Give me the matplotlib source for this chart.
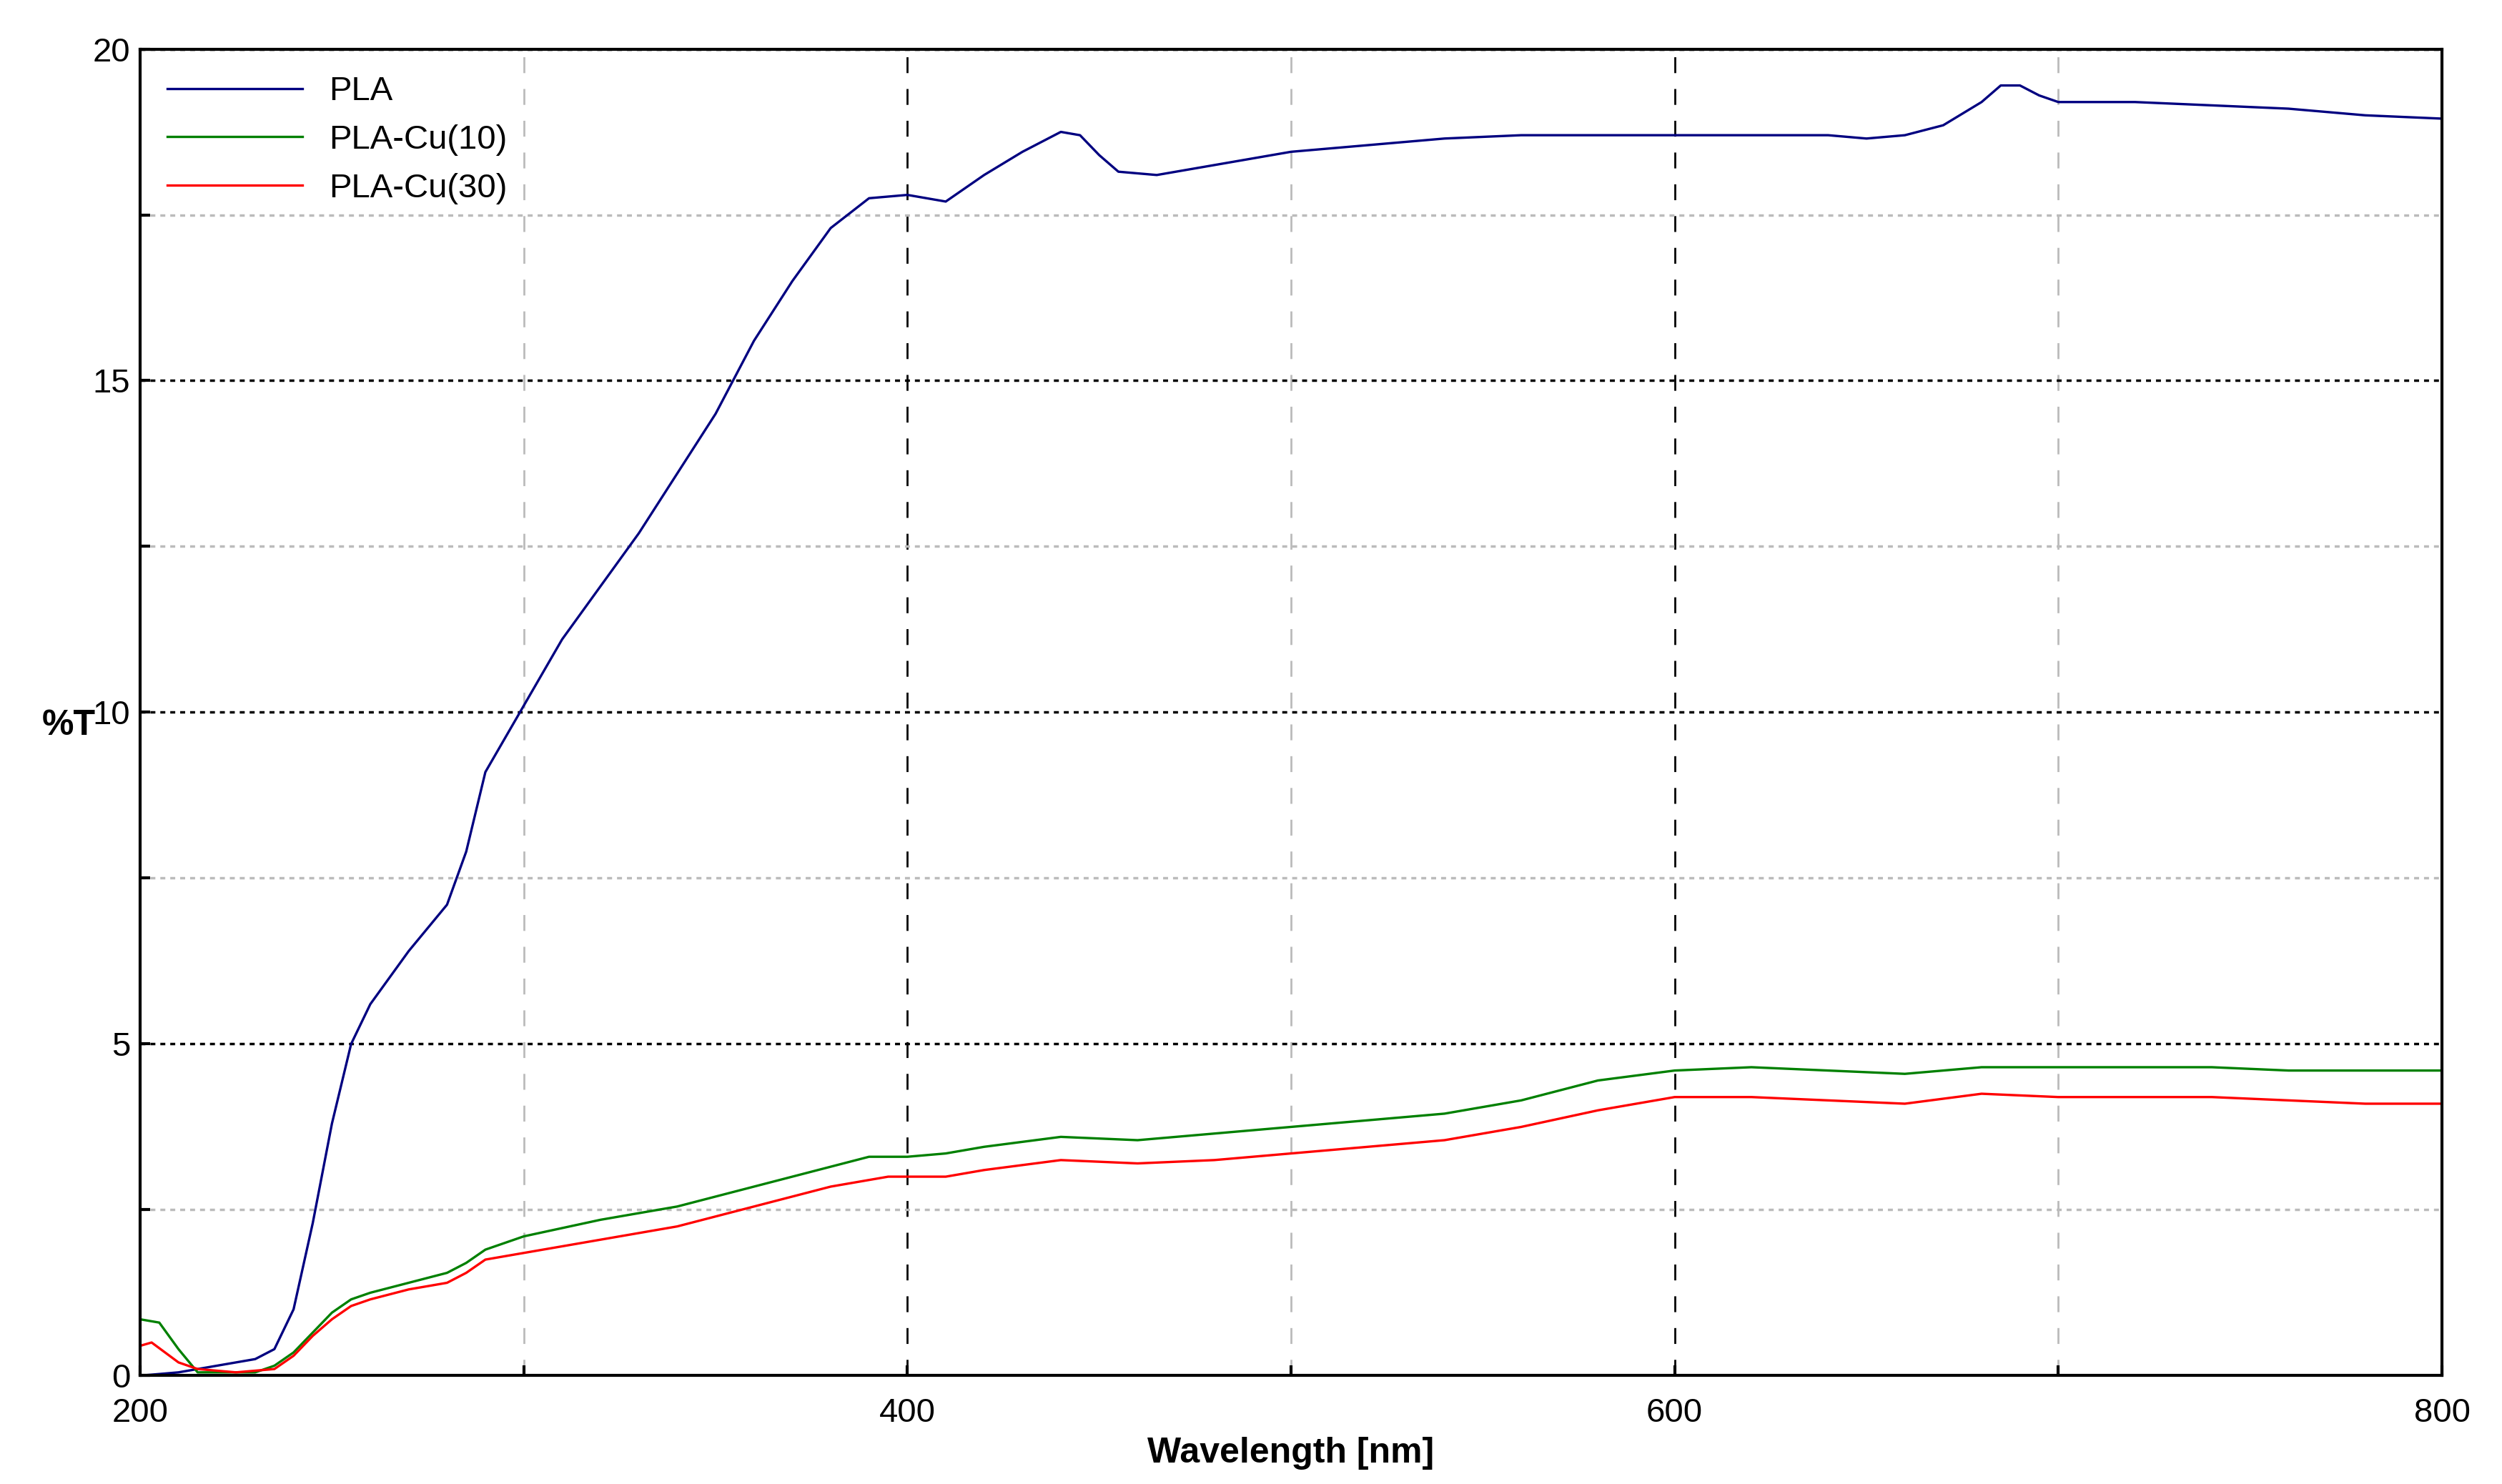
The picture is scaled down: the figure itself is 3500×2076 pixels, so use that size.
import matplotlib
matplotlib.use("Agg")
import matplotlib.pyplot as plt
from matplotlib.ticker import MultipleLocator

plt.rcParams['font.family'] = ['Liberation Sans Narrow', 'Liberation Sans', 'DejaVu Sans']

pla_x = [200,210,220,230,235,240,245,250,255,260,270,280,285,290,295,300,310,320,330,340,350,360,370,380,390,400,410,420,430,440,445,450,455,465,480,500,520,540,560,600,640,650,660,670,680,685,690,695,700,720,740,760,780,800]
pla_y = [0,0.05,0.15,0.25,0.4,1.0,2.3,3.8,5.0,5.6,6.4,7.1,7.9,9.1,9.6,10.1,11.1,11.9,12.7,13.6,14.5,15.6,16.5,17.3,17.75,17.8,17.7,18.1,18.45,18.75,18.7,18.4,18.15,18.1,18.25,18.45,18.55,18.65,18.7,18.7,18.7,18.65,18.7,18.85,19.2,19.45,19.45,19.3,19.2,19.2,19.15,19.1,19.0,18.95]

cu10_x = [200,205,210,215,220,230,235,240,245,250,255,260,270,280,285,290,295,300,320,340,360,380,390,400,410,420,440,460,480,500,520,540,560,580,600,620,640,660,680,700,740,760,800]
cu10_y = [0.85,0.8,0.4,0.05,0.05,0.05,0.15,0.35,0.65,0.95,1.15,1.25,1.4,1.55,1.7,1.9,2.0,2.1,2.35,2.55,2.85,3.15,3.3,3.3,3.35,3.45,3.6,3.55,3.65,3.75,3.85,3.95,4.15,4.45,4.6,4.65,4.6,4.55,4.65,4.65,4.65,4.6,4.6]

cu30_x = [200,203,210,215,225,235,240,245,250,255,260,270,280,285,290,300,320,340,360,380,395,400,410,420,440,460,480,500,520,540,560,580,600,620,640,660,680,700,740,760,780,800]
cu30_y = [0.45,0.5,0.2,0.1,0.05,0.1,0.3,0.6,0.85,1.05,1.15,1.3,1.4,1.55,1.75,1.85,2.05,2.25,2.55,2.85,3.0,3.0,3.0,3.1,3.25,3.2,3.25,3.35,3.45,3.55,3.75,4.0,4.2,4.2,4.15,4.1,4.25,4.2,4.2,4.15,4.1,4.1]

fig = plt.figure(figsize=(35, 20.76), dpi=100)
ax = fig.add_axes([0.056, 0.073, 0.92, 0.894])

ax.plot(pla_x, pla_y, color='#000080', lw=2.4, label='PLA')
ax.plot(cu10_x, cu10_y, color='#008000', lw=2.4, label='PLA-Cu(10)')
ax.plot(cu30_x, cu30_y, color='#ff0000', lw=2.4, label='PLA-Cu(30)')

ax.set_xlim(200, 800)
ax.set_ylim(0, 20)
ax.xaxis.set_major_locator(MultipleLocator(200))
ax.xaxis.set_minor_locator(MultipleLocator(100))
ax.yaxis.set_major_locator(MultipleLocator(5))
ax.yaxis.set_minor_locator(MultipleLocator(2.5))
ax.grid(True, which='major', axis='x', color='black', ls=(0, (8, 8)), lw=2)
ax.grid(True, which='minor', axis='x', color='#bbbbbb', ls=(0, (8, 8)), lw=2)
ax.grid(True, which='major', axis='y', color='black', ls=(0, (2, 2)), lw=2.5)
ax.grid(True, which='minor', axis='y', color='#bbbbbb', ls=(0, (2, 2)), lw=2.5)
ax.set_axisbelow(True)
for s in ax.spines.values():
    s.set_linewidth(3)
ax.tick_params(which='both', direction='in', length=10, width=3, labelsize=34, pad=10)
ax.tick_params(axis='x', pad=22)

ax.set_xlabel('Wavelength [nm]', fontsize=36, fontweight='bold', labelpad=8)
ax.text(-0.031, 0.49, '%T', transform=ax.transAxes, fontsize=36, fontweight='bold', ha='center', va='center')

ax.legend(loc='upper left', frameon=False, fontsize=34, handlelength=4, borderaxespad=0.4, labelspacing=0.5)

fig.savefig('out.png', dpi=100)
